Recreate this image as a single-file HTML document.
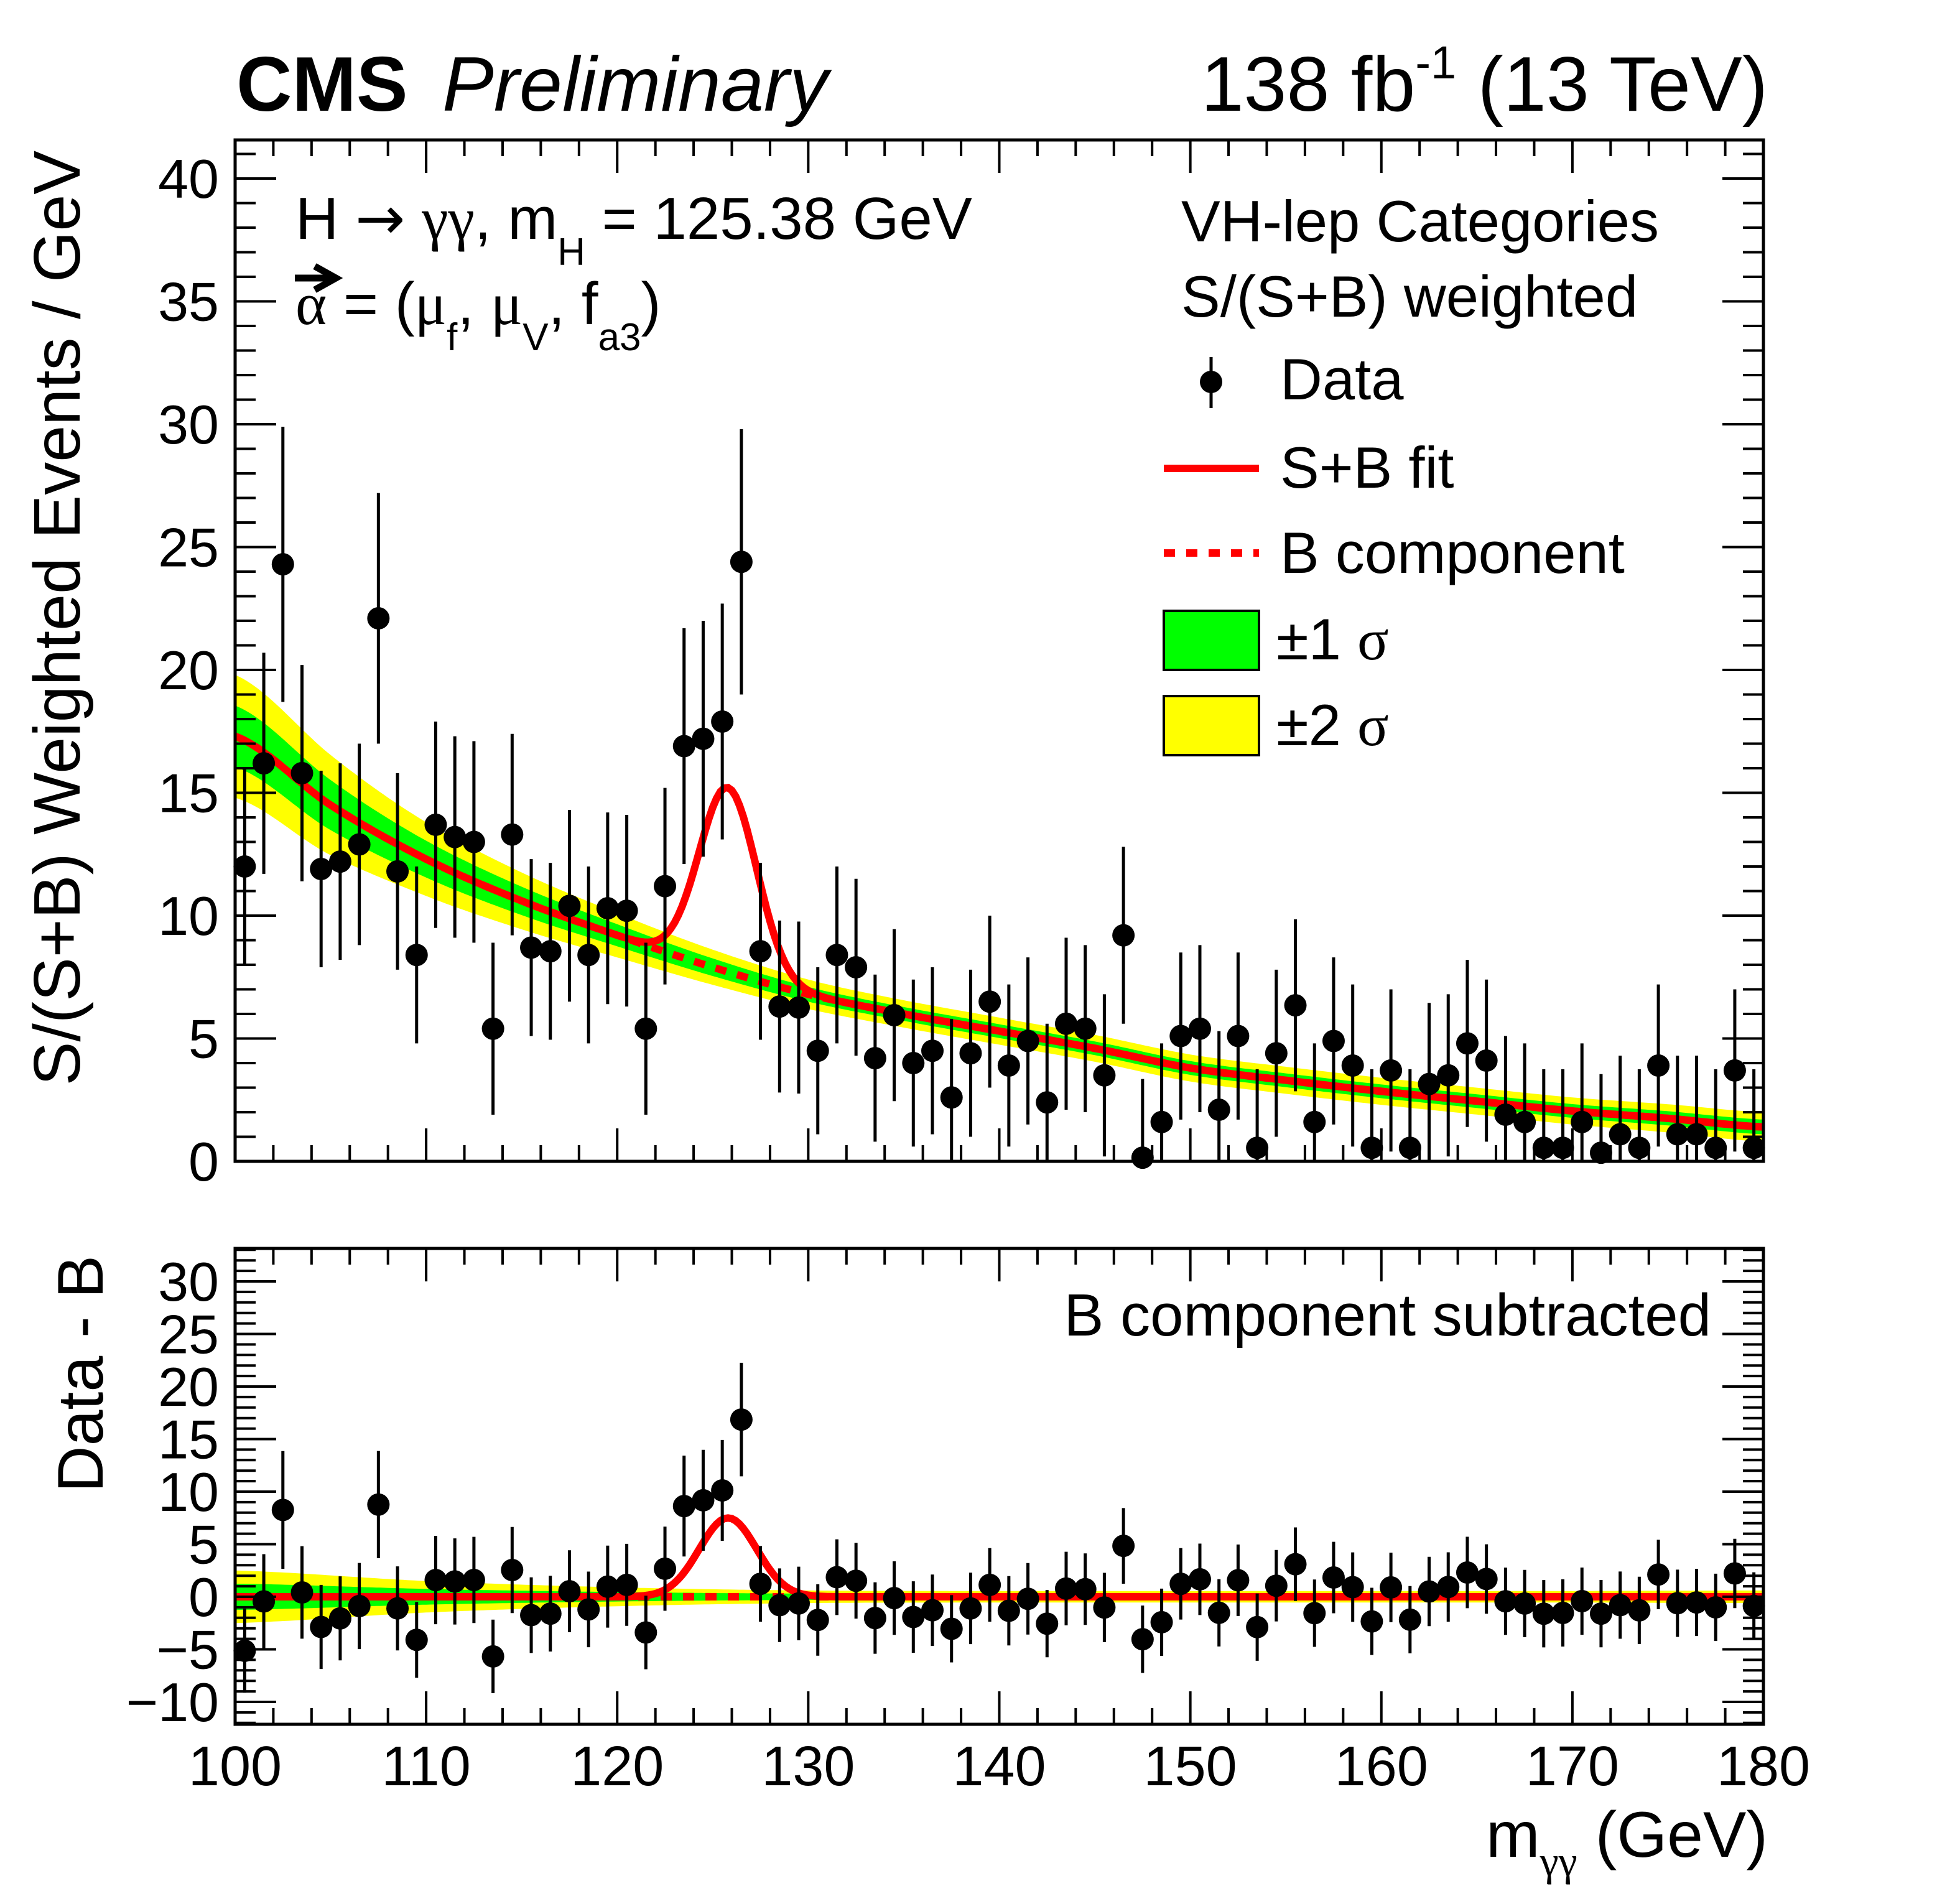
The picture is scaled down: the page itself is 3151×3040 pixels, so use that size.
<!DOCTYPE html>
<html><head><meta charset="utf-8"><style>
html,body{margin:0;padding:0;background:#fff;}
svg{display:block;}
text{font-family:"Liberation Sans",sans-serif;fill:#000;}
.g{font-family:"Liberation Serif",serif;}
.ar{font-family:"DejaVu Sans",sans-serif;}
</style></head><body>
<svg id="chart" width="3151" height="3040" viewBox="0 0 3151 3040" xmlns="http://www.w3.org/2000/svg">
<defs>
<clipPath id="clipTop"><rect x="378" y="225" width="2457" height="1642"/></clipPath>
<clipPath id="clipBot"><rect x="378" y="2007" width="2457" height="765"/></clipPath>
</defs>
<g id="top-bands" clip-path="url(#clipTop)"></g>
<g id="top-curves" clip-path="url(#clipTop)"></g>
<g id="top-data"></g>
<g id="bot-bands" clip-path="url(#clipBot)"></g>
<g id="bot-curves" clip-path="url(#clipBot)"></g>
<g id="bot-data"></g>
<g id="axes"></g>

<text x="380" y="178" font-size="124" font-weight="bold">CMS</text>
<text x="711" y="178" font-size="124" font-style="italic">Preliminary</text>
<text x="2842" y="178" font-size="124" text-anchor="end">138 fb<tspan dy="-52" font-size="74">-1</tspan><tspan dy="52"> (13 TeV)</tspan></text>

<text x="475" y="384" font-size="96">H <tspan class="ar">→</tspan> <tspan class="g">γγ</tspan>, m<tspan dy="42" font-size="62">H</tspan><tspan dy="-42"> = 125.38 GeV</tspan></text>
<text x="475" y="521" font-size="96"><tspan class="g">α</tspan> = (<tspan class="g">μ</tspan><tspan dy="42" font-size="62">f</tspan><tspan dy="-42">, </tspan><tspan class="g">μ</tspan><tspan dy="42" font-size="62">V</tspan><tspan dy="-42">, f</tspan><tspan dy="42" font-size="62">a3</tspan><tspan dy="-42">)</tspan></text>
<g><line x1="474" y1="447" x2="530" y2="447" stroke="#000" stroke-width="11"/><path d="M506,428 L540,447 L506,466" fill="none" stroke="#000" stroke-width="11"/></g>

<text x="1899" y="388" font-size="94">VH-lep Categories</text>
<text x="1899" y="509" font-size="94">S/(S+B) weighted</text>
<g>
<line x1="1947" y1="574" x2="1947" y2="656" stroke="#000" stroke-width="5"/><circle cx="1947" cy="614" r="18"/>
<text x="2058" y="642" font-size="94">Data</text></g>
<g>
<line x1="1871" y1="753" x2="2024" y2="753" stroke="#f00" stroke-width="12"/>
<text x="2058" y="784" font-size="94">S+B fit</text></g>
<g>
<line x1="1871" y1="889" x2="2024" y2="889" stroke="#f00" stroke-width="12" stroke-dasharray="18,18"/>
<text x="2058" y="921" font-size="94">B component</text></g>
<g>
<rect x="1871" y="982" width="153" height="95" fill="#0f0" stroke="#000" stroke-width="4"/>
<text x="2052" y="1060" font-size="94">±1 <tspan class="g">σ</tspan></text></g>
<g>
<rect x="1871" y="1119" width="153" height="95" fill="#ff0" stroke="#000" stroke-width="4"/>
<text x="2052" y="1198" font-size="94">±2 <tspan class="g">σ</tspan></text></g>

<text x="2751" y="2147" font-size="96" text-anchor="end">B component subtracted</text>

<text transform="translate(128,242) rotate(-90)" font-size="106" text-anchor="end">S/(S+B) Weighted Events / GeV</text>
<text transform="translate(165,2018) rotate(-90)" font-size="104" text-anchor="end">Data - B</text>
<text x="2842" y="2985" font-size="104" text-anchor="end">m<tspan dy="30" font-size="68" class="g">γγ</tspan><tspan dy="-30"> (GeV)</tspan></text>
</svg>
<script>
// ---- data ----
const binCenters = [100.5,101.5,102.5,103.5,104.5,105.5,106.5,107.5,108.5,109.5,110.5,111.5,112.5,113.5,114.5,115.5,116.5,117.5,118.5,119.5,120.5,121.5,122.5,123.5,124.5,125.5,126.5,127.5,128.5,129.5,130.5,131.5,132.5,133.5,134.5,135.5,136.5,137.5,138.5,139.5,140.5,141.5,142.5,143.5,144.5,145.5,146.5,147.5,148.5,149.5,150.5,151.5,152.5,153.5,154.5,155.5,156.5,157.5,158.5,159.5,160.5,161.5,162.5,163.5,164.5,165.5,166.5,167.5,168.5,169.5,170.5,171.5,172.5,173.5,174.5,175.5,176.5,177.5,178.5,179.5];
const dataValues = [12.0,16.2,24.3,15.8,11.9,12.2,12.9,22.1,11.8,8.4,13.7,13.2,13.0,5.4,13.3,8.7,8.55,10.4,8.4,10.3,10.2,5.4,11.2,16.9,17.2,17.9,24.4,8.55,6.3,6.26,4.5,8.4,7.9,4.2,5.95,4.0,4.5,2.6,4.4,6.5,3.9,4.9,2.4,5.6,5.4,3.5,9.2,0.15,1.6,5.1,5.4,2.1,5.1,0.55,4.4,6.35,1.6,4.9,3.9,0.55,3.7,0.55,3.15,3.5,4.8,4.1,1.9,1.6,0.55,0.55,1.6,0.35,1.1,0.55,3.9,1.1,1.1,0.55,3.7,0.55];
const dataErrors = [4.0,4.5,5.6,4.4,4.0,4.0,4.1,5.1,4.0,3.6,4.2,4.1,4.1,3.5,4.1,3.6,3.6,3.9,3.6,3.9,3.9,3.5,4.0,4.8,4.8,4.8,5.4,3.6,3.5,3.5,3.4,3.6,3.6,3.4,3.5,3.4,3.4,3.2,3.4,3.5,3.3,3.4,3.2,3.5,3.4,3.3,3.6,3.2,3.2,3.4,3.4,3.2,3.4,3.2,3.4,3.5,3.2,3.4,3.3,3.2,3.3,3.2,3.3,3.3,3.4,3.3,3.2,3.2,3.2,3.2,3.2,3.2,3.2,3.2,3.3,3.2,3.2,3.2,3.3,3.2];
const bgKnotsX = [100,105,110,115,120,125,130,135,140,145,150,155,160,165,170,175,180];
const bgKnotsY = [17.3,14.5,12.3,10.6,9.2,7.9,6.8,6.0,5.3,4.6,3.8,3.3,2.85,2.45,2.05,1.75,1.4];
const bandKnotsX = [100,110,120,130,140,150,160,170,180];
const band1Sigma = [1.25,0.75,0.45,0.3,0.28,0.28,0.28,0.28,0.3];
const band2Sigma = [2.5,1.5,0.9,0.6,0.55,0.55,0.55,0.55,0.6];
const signalParams = [125.8, 1.5, 7.5]; // mean, width, amplitude
const xTicks = [100,110,120,130,140,150,160,170,180];
const yTicksTop = [0,5,10,15,20,25,30,35,40];
const yTicksBot = [-10,-5,0,5,10,15,20,25,30];

// ---- axes ----
const X0=378, X1=2835;
const xs = v => X0 + (v-100)/(80)*(X1-X0);
const TOPY0=1867, TOPK=39.5, TOP_T=225;
const yT = v => TOPY0 - v*TOPK;
const BOTY0=2567, BOTK=16.9, BOT_T=2007, BOT_B=2772;
const yB = v => BOTY0 - v*BOTK;
const NS='http://www.w3.org/2000/svg';
function mk(tag, parent, attrs){const e=document.createElementNS(NS,tag);for(const k in attrs)e.setAttribute(k,attrs[k]);parent.appendChild(e);return e;}

function catmull(kx, ky, x){
  let i=0; while(i<kx.length-2 && x>kx[i+1]) i++;
  const p0=ky[Math.max(i-1,0)], p1=ky[i], p2=ky[i+1], p3=ky[Math.min(i+2,ky.length-1)];
  const t=(x-kx[i])/(kx[i+1]-kx[i]);
  const t2=t*t,t3=t2*t;
  return 0.5*((2*p1)+(-p0+p2)*t+(2*p0-5*p1+4*p2-p3)*t2+(-p0+3*p1-3*p2+p3)*t3);
}
const Bf = x => catmull(bgKnotsX,bgKnotsY,x);
const Sf = x => signalParams[2]*Math.exp(-0.5*Math.pow((x-signalParams[0])/signalParams[1],2));
const s1 = x => catmull(bandKnotsX,band1Sigma,x);
const s2 = x => catmull(bandKnotsX,band2Sigma,x);
const grid=[]; for(let x=100;x<=180.001;x+=0.2) grid.push(x);

function bandPath(center, w, ymap){
  let up=grid.map(x=>xs(x).toFixed(1)+','+ymap(center(x)+w(x)).toFixed(1));
  let dn=grid.slice().reverse().map(x=>xs(x).toFixed(1)+','+ymap(center(x)-w(x)).toFixed(1));
  return 'M'+up.join(' L')+' L'+dn.join(' L')+'Z';
}
function linePath(f, ymap){return 'M'+grid.map(x=>xs(x).toFixed(1)+','+ymap(f(x)).toFixed(1)).join(' L');}

// top panel
const tb=document.getElementById('top-bands');
let p=mk('path',tb,{d:bandPath(Bf,s2,yT),fill:'#ff0'});


p=mk('path',tb,{d:bandPath(Bf,s1,yT),fill:'#0f0'});


const tc=document.getElementById('top-curves');
p=mk('path',tc,{d:linePath(Bf,yT),fill:'none',stroke:'#f00','stroke-width':12,'stroke-dasharray':'18,18'});


p=mk('path',tc,{d:linePath(x=>Bf(x)+Sf(x),yT),fill:'none',stroke:'#f00','stroke-width':12});



// bottom panel
const zero = x => 0;
const bb=document.getElementById('bot-bands');
p=mk('path',bb,{d:bandPath(zero,s2,yB),fill:'#ff0'});


p=mk('path',bb,{d:bandPath(zero,s1,yB),fill:'#0f0'});


const bc=document.getElementById('bot-curves');
p=mk('path',bc,{d:linePath(zero,yB),fill:'none',stroke:'#f00','stroke-width':12,'stroke-dasharray':'18,18'});


p=mk('path',bc,{d:linePath(Sf,yB),fill:'none',stroke:'#f00','stroke-width':12});



// data points
function clamp(v,a,b){return Math.max(a,Math.min(b,v));}
const td=document.getElementById('top-data'), bd=document.getElementById('bot-data');
binCenters.forEach((c,i)=>{
  const v=dataValues[i], e=dataErrors[i];
  const g=mk('g',td,{});
  
  
  const cx=xs(c);
  mk('line',g,{x1:cx,x2:cx,y1:clamp(yT(v+e),TOP_T,TOPY0),y2:clamp(yT(v-e),TOP_T,TOPY0),stroke:'#000','stroke-width':5});
  mk('circle',g,{cx:cx,cy:yT(v),r:18,fill:'#000'});
  const r=v-Bf(c);
  const g2=mk('g',bd,{});
  
  
  mk('line',g2,{x1:cx,x2:cx,y1:clamp(yB(r+e),BOT_T,BOT_B),y2:clamp(yB(r-e),BOT_T,BOT_B),stroke:'#000','stroke-width':5});
  mk('circle',g2,{cx:cx,cy:yB(r),r:18,fill:'#000'});
});

// axes / frames / ticks
const ax=document.getElementById('axes');
function frame(top,bottom,name){
  const r=mk('rect',ax,{x:X0,y:top,width:X1-X0,height:bottom-top,fill:'none',stroke:'#000','stroke-width':5});
  
  
}
frame(TOP_T,TOPY0,'top-panel-frame');
frame(BOT_T,BOT_B,'bottom-panel-frame');
function xTickMarks(top,bottom){
  for(let v=100;v<=180;v+=2){
    const major=(v%10===0), L=major?53:26, x=xs(v);
    mk('line',ax,{x1:x,x2:x,y1:bottom,y2:bottom-L,stroke:'#000','stroke-width':4});
    mk('line',ax,{x1:x,x2:x,y1:top,y2:top+L,stroke:'#000','stroke-width':4});
  }
}
xTickMarks(TOP_T,TOPY0); xTickMarks(BOT_T,BOT_B);
function yTickMarks(ymap,lo,hi,top,bottom){
  for(let v=lo;v<=hi;v++){
    const y=ymap(v); if(y<top-1||y>bottom+1) continue;
    const L=(v%5===0)?66:33;
    mk('line',ax,{x1:X0,x2:X0+L,y1:y,y2:y,stroke:'#000','stroke-width':4});
    mk('line',ax,{x1:X1,x2:X1-L,y1:y,y2:y,stroke:'#000','stroke-width':4});
  }
}
yTickMarks(yT,0,41,TOP_T,TOPY0);
yTickMarks(yB,-12,33,BOT_T,BOT_B);
yTicksTop.forEach(v=>{
  const t=mk('text',ax,{x:352,y:yT(v)+31,'font-size':88,'text-anchor':'end'});
  t.textContent=String(v);
  
  
});
yTicksBot.forEach(v=>{
  const t=mk('text',ax,{x:352,y:yB(v)+31,'font-size':88,'text-anchor':'end'});
  t.textContent=v<0?('\u2212'+Math.abs(v)):String(v);
  
  
});
xTicks.forEach(v=>{
  const t=mk('text',ax,{x:xs(v),y:2870,'font-size':90,'text-anchor':'middle'});
  t.textContent=String(v);
  
  
});
</script>
</body></html>
